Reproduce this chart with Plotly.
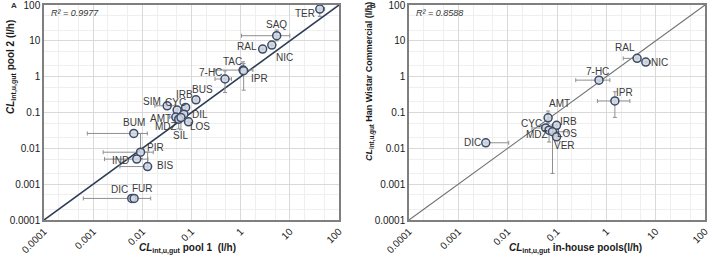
import numpy as np
import plotly.graph_objects as go

# ---------------- data ----------------
tick_vals = [1e-4, 1e-3, 1e-2, 1e-1, 1, 10, 100]
tick_text = ["0.0001", "0.001", "0.01", "0.1", "1", "10", "100"]

names_a = ["TER", "SAQ", "RAL", "NIC", "TAC", "IPR", "7-HC", "BUS", "IRB", "SIM", "CYC",
           "DIL", "AMT", "MDZ", "SIL", "LOS", "BUM", "PIR", "IND", "BIS", "DIC", "FUR"]
x_a = [40.7, 5.4, 2.8, 4.3, 1.12, 1.15, 0.48, 0.123, 0.076, 0.032, 0.051,
       0.070, 0.048, 0.055, 0.061, 0.087, 0.0067, 0.0092, 0.0077, 0.0128, 0.0061, 0.0068]
y_a = [77, 13.9, 5.9, 7.6, 1.53, 1.47, 0.86, 0.226, 0.139, 0.154, 0.117,
       0.090, 0.0745, 0.065, 0.072, 0.055, 0.026, 0.0078, 0.005, 0.0031, 0.0004, 0.0004]
xlo_a = [35, 1.04, 2.8, 4.3, 0.30, 1.0, 0.30, 0.123, 0.076, 0.018, 0.051,
         0.070, 0.036, 0.055, 0.061, 0.087, 0.00076, 0.0016, 0.0017, 0.0035, 0.00063, 0.0068]
xhi_a = [51, 10, 2.8, 4.3, 1.77, 1.35, 0.65, 0.123, 0.076, 0.046, 0.051,
         0.070, 0.070, 0.055, 0.061, 0.087, 0.0126, 0.0167, 0.013, 0.0128, 0.0148, 0.0068]
ylo_a = [48, 10, 5.9, 7.6, 1.2, 0.42, 0.36, 0.226, 0.139, 0.154, 0.117,
         0.090, 0.0745, 0.035, 0.033, 0.055, 0.026, 0.0052, 0.005, 0.0031, 0.0004, 0.0004]
yhi_a = [100, 20, 5.9, 7.6, 2.6, 2.3, 1.45, 0.226, 0.139, 0.154, 0.117,
         0.090, 0.0745, 0.08, 0.09, 0.055, 0.026, 0.026, 0.005, 0.0079, 0.0004, 0.0004]

names_b = ["RAL", "NIC", "7-HC", "IPR", "AMT", "CYC", "IRB", "MDZ", "LOS", "VER", "DIC"]
x_b = [4.2, 6.3, 0.71, 1.49, 0.066, 0.059, 0.098, 0.069, 0.081, 0.098, 0.0036]
y_b = [3.24, 2.56, 0.80, 0.21, 0.071, 0.037, 0.044, 0.032, 0.029, 0.021, 0.0143]
xlo_b = [2.2, 6.3, 0.24, 0.66, 0.066, 0.031, 0.098, 0.069, 0.081, 0.098, 0.0036]
xhi_b = [4.2, 7.9, 1.18, 3.0, 0.066, 0.059, 0.098, 0.069, 0.166, 0.098, 0.0105]
ylo_b = [3.24, 2.56, 0.80, 0.073, 0.05, 0.037, 0.044, 0.015, 0.002, 0.021, 0.0143]
yhi_b = [3.24, 2.56, 0.80, 0.38, 0.11, 0.037, 0.044, 0.032, 0.045, 0.021, 0.0143]

r2_a = "0.9977"
r2_b = "0.8588"

# label offsets in pixels (dx, dy up)
off_a = {"TER": (-15, -4), "SAQ": (0, 11), "RAL": (-16, 3), "NIC": (13, -12), "TAC": (-11, 9),
         "IPR": (16, -8), "7-HC": (-14, 7), "BUS": (7, 10), "IRB": (-1, 13), "SIM": (-15, 4),
         "CYC": (-2, 8), "DIL": (16, 0), "AMT": (-15, -1), "MDZ": (-13, -7), "SIL": (0, -18),
         "LOS": (11, -5), "BUM": (0, 11), "PIR": (15, 5), "IND": (-16, -1), "BIS": (17, 1),
         "DIC": (-12, 9), "FUR": (8, 10)}
off_b = {"RAL": (-12, 11), "NIC": (14, 0), "7-HC": (-2, 9), "IPR": (10, 8), "AMT": (11, 14),
         "CYC": (-14, 4), "IRB": (12, 4), "MDZ": (-12, -4), "LOS": (15, -2), "VER": (8, -9),
         "DIC": (-13, 0)}

# ---------------- figure ----------------
W, H = 709, 263
FONT = "Liberation Sans Narrow, Arial Narrow, Liberation Sans, Arial, sans-serif"
MK = dict(symbol="circle", size=8, color="rgba(208,215,227,0.85)",
          line=dict(color="#3d4b66", width=1.5))
ERR = dict(color="#8f8f8f", thickness=1, width=2)

fig = go.Figure()
axis_range = [-4, 2]
diag = [10 ** v for v in axis_range]


def add_panel(xs, ys, xlo, xhi, ylo, yhi, xa, ya, line_color, line_w):
    fig.add_trace(go.Scatter(x=diag, y=diag, mode="lines", xaxis=xa, yaxis=ya,
                             line=dict(color=line_color, width=line_w),
                             hoverinfo="skip", showlegend=False))
    xs = np.array(xs, float); ys = np.array(ys, float)
    fig.add_trace(go.Scatter(
        x=xs, y=ys, mode="markers", xaxis=xa, yaxis=ya, marker=MK, showlegend=False,
        error_x=dict(type="data", symmetric=False, array=np.array(xhi) - xs,
                     arrayminus=xs - np.array(xlo), **ERR),
        error_y=dict(type="data", symmetric=False, array=np.array(yhi) - ys,
                     arrayminus=ys - np.array(ylo), **ERR)))


add_panel(x_a, y_a, xlo_a, xhi_a, ylo_a, yhi_a, "x", "y", "#2e3d57", 1.6)
add_panel(x_b, y_b, xlo_b, xhi_b, ylo_b, yhi_b, "x2", "y2", "#6f6f6f", 1.1)

ann = []
for names, xs, ys, offs, xr, yr in [(names_a, x_a, y_a, off_a, "x", "y"),
                                    (names_b, x_b, y_b, off_b, "x2", "y2")]:
    for n, xv, yv in zip(names, xs, ys):
        dx, dy = offs[n]
        ann.append(dict(x=np.log10(xv), y=np.log10(yv), xref=xr, yref=yr, text=n,
                        showarrow=False, xshift=dx, yshift=dy,
                        xanchor="center", yanchor="middle",
                        font=dict(family=FONT, size=10, color="#3a3a3a")))

px = lambda v: v / W
py = lambda v: 1 - v / H
title_font = dict(family=FONT, size=10, color="#1a1a1a")
C = dict(xref="paper", yref="paper", showarrow=False, xanchor="center", yanchor="middle")
ann += [
    dict(C, x=px(188), y=py(248),
         text="<b><i>CL</i><sub>int,u,gut</sub> pool 1  (l/h)</b>", font=title_font),
    dict(C, x=px(575), y=py(248),
         text="<b><i>CL</i><sub>int,u,gut</sub> in-house pools(l/h)</b>", font=title_font),
    dict(C, x=px(11), y=py(67), textangle=-90,
         text="<b><i>CL</i><sub>int,u,gut</sub> pool 2 (l/h)</b>", font=title_font),
    dict(C, x=px(370), y=py(82), textangle=-90,
         text="<b><i>CL</i><sub>int,u,gut</sub> Han Wistar Commercial (l/h)</b>",
         font=dict(title_font, size=9)),
    dict(C, x=px(49), y=py(13), xanchor="left",
         text="<i>R² = " + r2_a + "</i>", font=dict(family=FONT, size=9, color="#333")),
    dict(C, x=px(414), y=py(13), xanchor="left",
         text="<i>R² = " + r2_b + "</i>", font=dict(family=FONT, size=9, color="#333")),
    dict(C, x=px(14), y=py(6), text="<b>A</b>", font=dict(family=FONT, size=8, color="#333")),
    dict(C, x=px(373), y=py(6), text="<b>B</b>", font=dict(family=FONT, size=8, color="#333")),
]

common = dict(type="log", range=axis_range, tickvals=tick_vals, ticktext=tick_text,
              showgrid=True, gridcolor="#d9d9d9", gridwidth=1,
              minor=dict(showgrid=True, gridcolor="#efefef", gridwidth=1),
              showline=True, mirror=True, linecolor="#7f7f7f", linewidth=1.5,
              zeroline=False, ticks="", automargin=False, ticklabeloverflow="allow",
              tickfont=dict(family=FONT, size=10, color="#1a1a1a"))

fig.update_layout(
    width=W, height=H, margin=dict(l=0, r=0, t=0, b=0),
    paper_bgcolor="white", plot_bgcolor="white", showlegend=False,
    xaxis=dict(common, domain=[px(44), px(339)], anchor="y", tickangle=-45),
    yaxis=dict(common, domain=[py(220), py(5)], anchor="x"),
    xaxis2=dict(common, domain=[px(409), px(705)], anchor="y2", tickangle=-45),
    yaxis2=dict(common, domain=[py(220), py(5)], anchor="x2"),
    annotations=ann,
)

fig.write_html("out.html", config={"displayModeBar": False},
               post_script="document.body.style.margin='0';")
